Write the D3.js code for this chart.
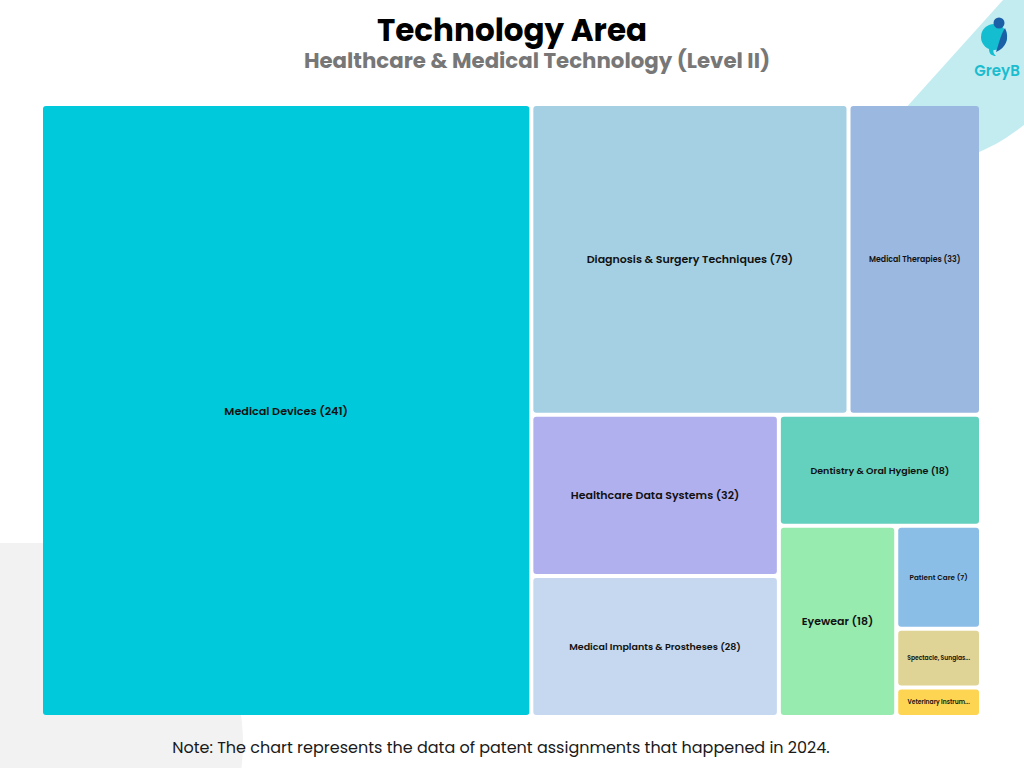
<!DOCTYPE html>
<html>
<head>
<meta charset="utf-8">
<script src="https://cdn.jsdelivr.net/npm/d3@7"></script>
<style>
  html, body { margin: 0; padding: 0; background: #ffffff; }
  svg { display: block; }
  text { font-family: "Poppins", "Inter", "Open Sans", sans-serif; }
</style>
</head>
<body>
<svg id="chart" width="1024" height="768"></svg>
<script>
// ---- data ----
const categories = [
  "Medical Devices",
  "Diagnosis & Surgery Techniques",
  "Medical Therapies",
  "Healthcare Data Systems",
  "Medical Implants & Prostheses",
  "Dentistry & Oral Hygiene",
  "Eyewear",
  "Patient Care",
  "Spectacle, Sunglasses & Contact Lenses",
  "Veterinary Instruments"
];
const values = [241, 79, 33, 32, 28, 18, 18, 7, 4, 2];
const colors = ["#00C9DB", "#A5D0E3", "#9BB8E1", "#B1B0EE", "#C5D8EF",
                "#64D0BE", "#97EBAF", "#8BBEE7", "#DFD495", "#FED553"];
const labelSizes = [11.2, 11, 7.8, 11, 9.5, 9.5, 11, 7.2, 6, 6];

const titleText = "Technology Area";
const subtitleText = "Healthcare & Medical Technology (Level II)";
const noteText = "Note: The chart represents the data of patent assignments that happened in 2024.";

// ---- drawing ----
const svg = d3.select("#chart");

// background decorations
svg.append("rect").attr("x", -300).attr("y", 543).attr("width", 543).attr("height", 400)
  .attr("rx", 200).attr("ry", 200).attr("fill", "#F2F2F2");
svg.append("path")
  .attr("d", "M1003,0 L877,140 C905,172 965,172 1024,125 L1024,0 Z")
  .attr("fill", "#C3ECF1");

// logo
const logo = svg.append("g");
logo.append("circle").attr("cx", 994).attr("cy", 37).attr("r", 13).attr("fill", "#14BDD0");
logo.append("path").attr("d", "M1005,28 C1010,38 1006,48 996,52 C999,44 1000,36 1005,28 Z").attr("fill", "#1B5FA6");
logo.append("circle").attr("cx", 999).attr("cy", 23).attr("r", 5.5).attr("fill", "#1B5FA6");
logo.append("path").attr("d", "M989,49 C989,54 992,56 996,56 C993,53 993,51 994,49 Z").attr("fill", "#14BDD0");
logo.append("text").attr("x", 997).attr("y", 76).attr("text-anchor", "middle")
  .attr("font-size", 15).attr("font-weight", 600).attr("fill", "#1CBCCF").text("GreyB");

// titles
svg.append("text").attr("x", 512).attr("y", 41).attr("text-anchor", "middle")
  .attr("font-size", 31).attr("font-weight", 700).attr("fill", "#000").text(titleText);
svg.append("text").attr("x", 537).attr("y", 68).attr("text-anchor", "middle")
  .attr("font-size", 21.3).attr("font-weight", 700).attr("fill", "#777777").text(subtitleText);

// treemap
const data = {
  name: "root",
  children: categories.map((c, i) => ({ name: c, value: values[i], color: colors[i], size: labelSizes[i] }))
};
const root = d3.hierarchy(data).sum(d => d.value || 0);
d3.treemap()
  .tile(d3.treemapSquarify.ratio(1.08))
  .size([936, 609])
  .paddingInner(4)(root);

const g = svg.append("g").attr("transform", "translate(43,106)");
const cell = g.selectAll("g.cell").data(root.leaves()).join("g")
  .attr("class", "cell")
  .attr("transform", d => `translate(${d.x0},${d.y0})`);

cell.append("rect")
  .attr("width", d => d.x1 - d.x0)
  .attr("height", d => d.y1 - d.y0)
  .attr("rx", 3).attr("ry", 3)
  .attr("fill", d => d.data.color);

cell.append("text")
  .attr("x", d => (d.x1 - d.x0) / 2)
  .attr("y", d => (d.y1 - d.y0) / 2)
  .attr("text-anchor", "middle")
  .attr("dominant-baseline", "central")
  .attr("font-size", d => d.data.size)
  .attr("font-weight", 600)
  .attr("fill", "#111")
  .each(function (d) {
    const el = d3.select(this);
    const full = `${d.data.name} (${d.data.value})`;
    el.text(full);
    const maxW = (d.x1 - d.x0) - 16;
    if (this.getComputedTextLength() > maxW) {
      let s = full;
      while (s.length > 1) {
        s = s.slice(0, -1);
        el.text(s.trimEnd() + "...");
        if (this.getComputedTextLength() <= maxW) break;
      }
    }
  });

// note
svg.append("text").attr("x", 501).attr("y", 753).attr("text-anchor", "middle")
  .attr("font-size", 16).attr("font-weight", 400).attr("fill", "#1a1a1a").text(noteText);
</script>
</body>
</html>
